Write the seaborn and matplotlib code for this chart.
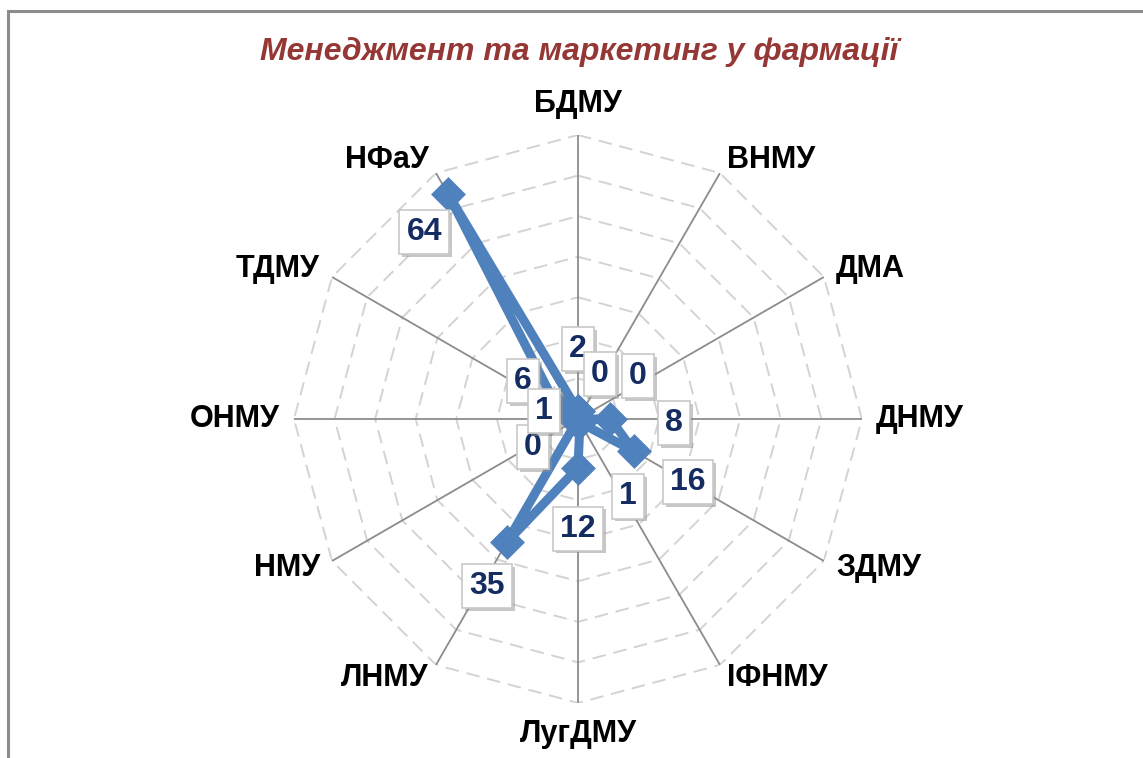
import numpy as np
import pandas as pd
import matplotlib
matplotlib.use("Agg")
import matplotlib.pyplot as plt
import matplotlib.patheffects as pe
from matplotlib.patches import Rectangle
import seaborn as sns

# chart data
categories = ['БДМУ', 'ВНМУ', 'ДМА', 'ДНМУ', 'ЗДМУ', 'ІФНМУ',
              'ЛугДМУ', 'ЛНМУ', 'НМУ', 'ОНМУ', 'ТДМУ', 'НФаУ']
values = [2, 0, 0, 8, 16, 1, 12, 35, 0, 1, 6, 64]
ring_values = [10, 20, 30, 40, 50, 60, 70]
title = 'Менеджмент та маркетинг у фармації'

# label offsets in pixels from each point (layout only)
label_offsets = [(0, 62), (22, 45), (60, 43), (64, -4), (54, -31), (48, -74),
                 (0, -61), (-20, -44), (-45, -28), (-30, 8), (-34, 26), (-24, -38)]

sns.set_theme(style='white')
plt.rcParams['font.family'] = ['Liberation Sans', 'DejaVu Sans']

line_color = '#4F81BD'
n = len(categories)
theta = np.arange(n) * 2 * np.pi / n
rmax = ring_values[-1]

fig = plt.figure(figsize=(11.43, 7.58), dpi=100)
ax = fig.add_axes([0.2572, 0.0726, 0.4969, 0.7493], projection='polar')
ax.set_theta_offset(np.pi / 2)
ax.set_theta_direction(-1)
ax.set_ylim(0, rmax)
ax.grid(False)
ax.spines['polar'].set_visible(False)
ax.set_xticks([])
ax.set_yticks([])

# polygon rings
ring_theta = np.append(theta, theta[0])
for r in ring_values:
    ax.plot(ring_theta, [r] * (n + 1), color='#D3D3D3', lw=1.4,
            dashes=(7, 4), zorder=1)

# spokes
for t in theta:
    ax.plot([t, t], [0, rmax], color='#8C8C8C', lw=1.3, zorder=2)

# series
df = pd.DataFrame({'theta': np.append(theta, 2 * np.pi),
                   'value': values + [values[0]]})
sns.lineplot(data=df, x='theta', y='value', sort=False, estimator=None,
             color=line_color, lw=6.5, marker='D', markersize=14,
             markeredgewidth=3.5, markeredgecolor=line_color,
             solid_joinstyle='round', ax=ax, zorder=5)
ax.set_xlabel('')
ax.set_ylabel('')

# category labels
for t, name in zip(theta, categories):
    s, c = np.sin(t), np.cos(t)
    if abs(c) > 0.99:
        ha, va = 'center', ('bottom' if c > 0 else 'top')
        off = (0, 16 * np.sign(c))
    else:
        ha = 'left' if s > 0 else 'right'
        va = 'center'
        off = (14 * s, 15 * c)
    ax.annotate(name, xy=(t, rmax), xytext=off,
                textcoords='offset pixels', ha=ha, va=va,
                fontsize=22, fontweight='bold', color='black',
                annotation_clip=False)

# data labels
for t, v, name, off in zip(theta, values, categories, label_offsets):
    txt = ax.annotate(str(v), xy=(t, v), xytext=off, textcoords='offset pixels',
                      ha='center', va='center', fontsize=23, fontweight='bold',
                      color='#142C62',
                      bbox=dict(boxstyle='square,pad=0.22', fc='white',
                                ec='#C8C8C8', lw=1.2),
                      zorder=12 if name == 'ОНМУ' else 10,
                      annotation_clip=False)
    txt.get_bbox_patch().set_path_effects(
        [pe.SimplePatchShadow(offset=(2, -2), shadow_rgbFace='#909090', alpha=0.5),
         pe.Normal()])

fig.text(0.5063, 1 - 52 / 758, title, ha='center', va='center',
         fontsize=23, fontweight='bold', style='italic', color='#953735')

# outer chart border (cut at right and bottom in the original)
fig.add_artist(Rectangle((7.5 / 1143, -0.5), 2, 1.5 - 10.5 / 758,
                         transform=fig.transFigure, fill=False,
                         ec='#8C8C8C', lw=2.2))

fig.savefig('out.png', dpi=100)
